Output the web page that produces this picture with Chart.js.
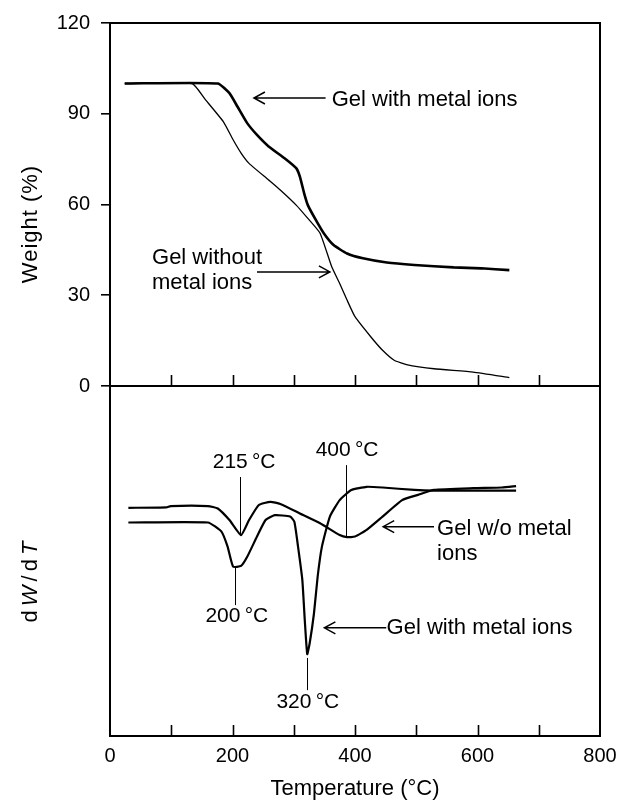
<!DOCTYPE html>
<html><head><meta charset="utf-8">
<style>html,body{margin:0;padding:0;background:#fff}#wrap{width:617px;height:800px;position:relative}</style>
<script src="https://cdn.jsdelivr.net/npm/chart.js@4"></script>
</head><body><div id="wrap"><canvas id="c" width="617" height="800"></canvas></div>
<script>
// ---- data ----
const tempTickLabels = [0, 200, 400, 600, 800];
const tempMinorTicks = [100, 200, 300, 400, 500, 600, 700];
const weightTicks = [0, 30, 60, 90, 120];

// TGA: gel with metal ions
const tgaWithT = [24, 176, 195, 208, 224, 240, 259, 285, 304, 310, 317, 323, 336, 349, 365, 387, 413, 452, 497, 561, 606, 652];
const tgaWithW = [100, 100, 96.8, 92.4, 86.9, 83, 79.2, 75.3, 72, 69.2, 63.7, 59.8, 54.9, 50.5, 46.6, 43.8, 42.2, 40.8, 40, 39.2, 38.9, 38.3];
// TGA: gel without metal ions
const tgaWoT = [24, 134, 156, 185, 201, 214, 227, 259, 278, 304, 323, 343, 362, 375, 387, 400, 426, 445, 464, 484, 529, 593, 652];
const tgaWoW = [100, 100, 94.6, 87.4, 81.4, 77, 73.6, 68.1, 64.8, 59.8, 55.4, 50.5, 39.4, 33.9, 28.4, 22.9, 16.2, 11.8, 8.5, 7.1, 5.7, 4.6, 2.8];

// DTG (arbitrary units): gel without metal ions
const dtgWoT = [30, 92, 99, 160, 176, 195, 214, 227, 243, 262, 278, 310, 343, 375, 387, 400, 419, 445, 477, 503, 529, 593, 640, 663];
const dtgWoV = [65.2, 65.3, 65.7, 65.7, 65, 61.7, 57.4, 61.7, 66, 66.9, 66.3, 63.6, 60.8, 57.4, 56.8, 57, 58.9, 62.7, 67.4, 68.9, 70.3, 70.8, 71, 71.4];
// DTG (arbitrary units): gel with metal ions
const dtgWithT = [30, 160, 182, 192, 201, 214, 224, 240, 254, 269, 294, 301, 307, 314, 318, 322, 326, 333, 339, 346, 359, 375, 394, 419, 445, 497, 529, 593, 663];
const dtgWithV = [61, 61, 58.4, 54.1, 48.4, 48.6, 51.2, 57, 61.7, 63.1, 62.7, 61.2, 54.1, 44.6, 33.1, 23.4, 26.5, 35, 45.5, 54.1, 62.7, 67.4, 70.3, 71.2, 71, 70.3, 70.1, 70.1, 70.1];

const pts = (xs, ys) => xs.map((x, i) => ({x, y: ys[i]}));

// annotations, in data coordinates
const topNotes = [
  {text: 'Gel with metal ions', x: 362, y: 94.7, arrow: [352, 235, 95.2]},
  {text: 'Gel without', x: 68.6, y: 42.3},
  {text: 'metal ions', x: 68.6, y: 34, arrow: [240, 359, 37.7]}
];
const peakNotes = [
  {text: '215\u2009°C', x: 219, y: 78.3, line: [212, 74, 57.4]},
  {text: '400\u2009°C', x: 387, y: 81.6, line: [385, 77.4, 56.9]},
  {text: '200\u2009°C', x: 207, y: 34.3, line: [204, 48, 37.4]},
  {text: '320\u2009°C', x: 323, y: 9.7, line: [322, 22.3, 13.1]}
];
const bottomNotes = [
  {text: 'Gel w/o metal', x: 534, y: 59.1, arrow: [529, 446, 59.8]},
  {text: 'ions', x: 534, y: 52},
  {text: 'Gel with metal ions', x: 451.6, y: 30.9, arrow: [451, 350, 30.9]}
];

const FONT = "'Liberation Sans', Arial, Helvetica, sans-serif";

function arrow(ctx, x1, x2, y) {
  ctx.beginPath();
  ctx.moveTo(x1, y); ctx.lineTo(x2, y);
  const d = x2 < x1 ? 1 : -1;
  ctx.moveTo(x2 + d * 11, y - 6); ctx.lineTo(x2, y); ctx.lineTo(x2 + d * 11, y + 6);
  ctx.stroke();
}

const decor = {
  id: 'decor',
  afterDatasetsDraw(chart) {
    const ctx = chart.ctx, a = chart.chartArea;
    const sx = chart.scales.x, sy = chart.scales.y, sy2 = chart.scales.y2;
    ctx.save();
    ctx.strokeStyle = '#000'; ctx.fillStyle = '#000';
    // frame
    ctx.lineWidth = 2;
    ctx.strokeRect(a.left, a.top, a.right - a.left, a.bottom - a.top);
    ctx.beginPath(); ctx.moveTo(a.left, sy.bottom); ctx.lineTo(a.right, sy.bottom); ctx.stroke();
    // inward x ticks on both panels
    ctx.lineWidth = 1.6;
    ctx.beginPath();
    tempMinorTicks.forEach(v => {
      const px = Math.round(sx.getPixelForValue(v)) + 0.5;
      ctx.moveTo(px, sy.bottom); ctx.lineTo(px, sy.bottom - 11);
      ctx.moveTo(px, sy2.bottom); ctx.lineTo(px, sy2.bottom - 11);
    });
    ctx.stroke();
    // annotations
    ctx.textBaseline = 'middle';
    ctx.font = '22px ' + FONT;
    ctx.lineWidth = 1.5;
    const note = (n, sc) => {
      ctx.textAlign = 'left';
      ctx.fillText(n.text, sx.getPixelForValue(n.x), sc.getPixelForValue(n.y));
      if (n.arrow) arrow(ctx, sx.getPixelForValue(n.arrow[0]), sx.getPixelForValue(n.arrow[1]), sc.getPixelForValue(n.arrow[2]));
    };
    topNotes.forEach(n => note(n, sy));
    bottomNotes.forEach(n => note(n, sy2));
    ctx.font = '21px ' + FONT;
    ctx.textAlign = 'center';
    ctx.lineWidth = 1;
    peakNotes.forEach(n => {
      ctx.fillText(n.text, sx.getPixelForValue(n.x), sy2.getPixelForValue(n.y));
      const px = Math.round(sx.getPixelForValue(n.line[0])) + 0.5;
      ctx.beginPath();
      ctx.moveTo(px, sy2.getPixelForValue(n.line[1]));
      ctx.lineTo(px, sy2.getPixelForValue(n.line[2]));
      ctx.stroke();
    });
    // axis titles
    ctx.font = '22px ' + FONT;
    ctx.textAlign = 'center';
    ctx.fillText('Temperature (°C)', (a.left + a.right) / 2, 789);
    ctx.save();
    ctx.translate(31, 224);
    ctx.rotate(-Math.PI / 2);
    ctx.letterSpacing = '1px';
    ctx.fillText('Weight (%)', 0, 0);
    ctx.restore();
    // dW/dT with italic W and T
    ctx.save();
    ctx.translate(31, 580);
    ctx.rotate(-Math.PI / 2);
    ctx.letterSpacing = '4px';
    const parts = [['d', false], ['W', true], ['/', false], ['d', false], ['T', true]];
    let total = 0;
    parts.forEach(p => { ctx.font = (p[1] ? 'italic ' : '') + '22px ' + FONT; total += ctx.measureText(p[0]).width; });
    let cx = -total / 2;
    ctx.textAlign = 'left';
    parts.forEach(p => { ctx.font = (p[1] ? 'italic ' : '') + '22px ' + FONT; ctx.fillText(p[0], cx, 0); cx += ctx.measureText(p[0]).width; });
    ctx.restore();
    ctx.restore();
  }
};

new Chart(document.getElementById('c'), {
  type: 'line',
  data: {
    datasets: [
      {label: 'with', data: pts(tgaWithT, tgaWithW), yAxisID: 'y', borderColor: '#000', borderWidth: 2.6},
      {label: 'without', data: pts(tgaWoT, tgaWoW), yAxisID: 'y', borderColor: '#000', borderWidth: 1.3},
      {label: 'dtg wo', data: pts(dtgWoT, dtgWoV), yAxisID: 'y2', borderColor: '#000', borderWidth: 2.2},
      {label: 'dtg with', data: pts(dtgWithT, dtgWithV), yAxisID: 'y2', borderColor: '#000', borderWidth: 2.2}
    ]
  },
  options: {
    responsive: false, animation: false, devicePixelRatio: 1,
    layout: {padding: {top: 23, right: 17, left: 0, bottom: 0}},
    elements: {point: {radius: 0}, line: {tension: 0.15, fill: false}},
    plugins: {legend: {display: false}, tooltip: {enabled: false}},
    scales: {
      x: {
        type: 'linear', min: 0, max: 800, position: 'bottom',
        afterBuildTicks: s => { s.ticks = tempTickLabels.map(v => ({value: v})); },
        afterFit: s => { s.height = 64; },
        grid: {display: false}, border: {display: false},
        ticks: {color: '#000', font: {family: FONT, size: 20}, padding: 0, maxRotation: 0, autoSkip: false}
      },
      y: {
        type: 'linear', min: 0, max: 120, position: 'left', stack: 'p', stackWeight: 363, weight: 2,
        afterBuildTicks: s => { s.ticks = weightTicks.map(v => ({value: v})); },
        afterFit: s => { s.width = 110; },
        grid: {drawOnChartArea: false, drawTicks: true, tickLength: 9, color: '#000', lineWidth: 1.6},
        border: {display: false},
        ticks: {color: '#000', font: {family: FONT, size: 20}, padding: 11}
      },
      y2: {
        type: 'linear', min: 0, max: 100, position: 'left', stack: 'p', stackWeight: 350, weight: 1,
        afterFit: s => { s.width = 110; },
        grid: {display: false}, border: {display: false},
        ticks: {display: false}
      }
    }
  },
  plugins: [decor]
});
</script></body></html>
